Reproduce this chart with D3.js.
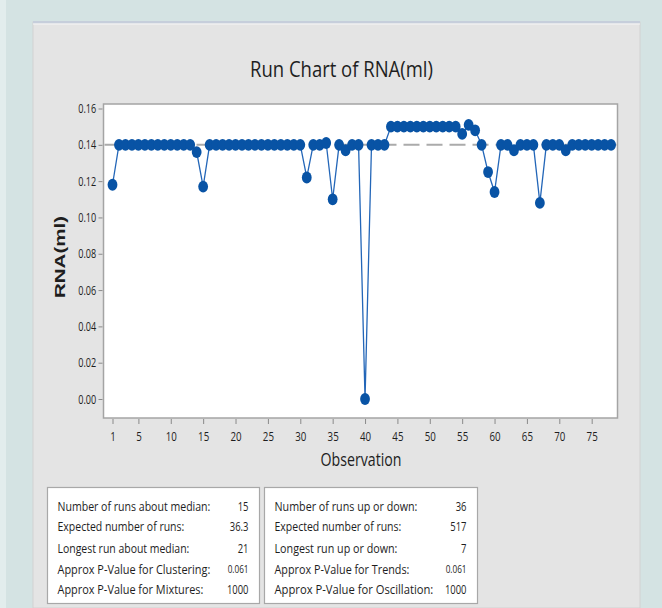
<!DOCTYPE html>
<html>
<head>
<meta charset="utf-8">
<script src="https://cdn.jsdelivr.net/npm/d3@7"></script>
<style>
  body { margin: 0; background: #d4e3e3; }
  text { font-family: "Open Sans", "Noto Sans", sans-serif; fill: #1e1e1e; }
</style>
</head>
<body>
<div id="c1"></div>
<script>
// RNA(ml) readings, observation = position in the list (1..78)
rnaValues = [
  0.118, 0.14, 0.14, 0.14, 0.14, 0.14, 0.14, 0.14, 0.14, 0.14,
  0.14, 0.14, 0.14, 0.136, 0.117, 0.14, 0.14, 0.14, 0.14, 0.14,
  0.14, 0.14, 0.14, 0.14, 0.14, 0.14, 0.14, 0.14, 0.14, 0.14,
  0.122, 0.14, 0.14, 0.141, 0.110, 0.14, 0.137, 0.14, 0.14, 0.0,
  0.14, 0.14, 0.14, 0.15, 0.15, 0.15, 0.15, 0.15, 0.15, 0.15,
  0.15, 0.15, 0.15, 0.15, 0.146, 0.151, 0.148, 0.14, 0.125, 0.114,
  0.14, 0.14, 0.137, 0.14, 0.14, 0.14, 0.108, 0.14, 0.14, 0.14,
  0.137, 0.14, 0.14, 0.14, 0.14, 0.14, 0.14, 0.14
]
medianValue = 0.14

xTicks = [1, 5, 10, 15, 20, 25, 30, 35, 40, 45, 50, 55, 60, 65, 70, 75]
yTicks = [0.00, 0.02, 0.04, 0.06, 0.08, 0.10, 0.12, 0.14, 0.16]

clusterLabels = ["Number of runs about median:", "Expected number of runs:", "Longest run about median:",
  "Approx P-Value for Clustering:", "Approx P-Value for Mixtures:"]
clusterValues = ["15", "36.3", "21", "0.061", "1000"]
trendLabels = ["Number of runs up or down:", "Expected number of runs:", "Longest run up or down:",
  "Approx P-Value for Trends:", "Approx P-Value for Oscillation:"]
trendValues = ["36", "517", "7", "0.061", "1000"]

W = 662, H = 608
frame = {left: 103.5, right: 617.5, top: 104, bottom: 418}

svg = d3.select("#c1")
  .append("svg")
  .attr("width", W)
  .attr("height", H)

// the original font is a narrow one: squash text horizontally with a scale transform
// (target = wanted width in px, or k = a fixed factor)
function condText(px, py, str, size, target, anchor) {
  var t = svg.append("text")
    .attr("text-anchor", anchor || "start")
    .style("font-size", size + "px")
    .text(str)
  var k = target < 1 ? target : target / t.node().getComputedTextLength()
  t.attr("transform", `translate(${px}, ${py}) scale(${k}, 1)`)
  return t
}

// backgrounds
svg.append("rect").attr("width", W).attr("height", H).attr("fill", "#d4e3e3")
svg.append("rect").attr("width", 6).attr("height", H).attr("fill", "#e2eded")
svg.append("rect").attr("x", 33).attr("y", 22).attr("width", 607).attr("height", H - 22)
  .attr("fill", "#e4e4e4").attr("stroke", "#d2d2d2")
svg.append("rect").attr("x", 33).attr("y", 21).attr("width", 607).attr("height", 2.5).attr("fill", "#c6cedb")
svg.append("rect").attr("x", 33).attr("y", 23.5).attr("width", 607).attr("height", 1).attr("fill", "#f5f5f5")

// title
condText(341.5, 77, "Run Chart of RNA(ml)", 22, 183, "middle")

// scales
x = d3.scaleLinear().domain([1, rnaValues.length]).range([112.5, 611.1])
y = d3.scaleLinear().domain([0, 0.16]).range([399, 108.5])

// plot frame
svg.append("rect")
  .attr("x", frame.left).attr("y", frame.top)
  .attr("width", frame.right - frame.left).attr("height", frame.bottom - frame.top)
  .attr("fill", "white").attr("stroke", "#a4a4a4").attr("stroke-width", 1.5)

// axes
yAxis = svg.append("g")
  .attr("transform", `translate(${frame.left - 1}, 0)`)
  .call(d3.axisLeft(y).tickValues(yTicks).tickFormat(d3.format(".2f")).tickSize(4).tickPadding(3))
yAxis.select(".domain").remove()
yAxis.selectAll("line").attr("stroke", "#8a8a8a")
yAxis.selectAll("text")
  .style("font-size", "13px").attr("fill", "#1e1e1e")
  .attr("x", -9)
  .attr("transform", "scale(0.7, 1)")

xAxis = svg.append("g")
  .attr("transform", `translate(0, ${frame.bottom + 1})`)
  .call(d3.axisBottom(x).tickValues(xTicks).tickFormat(d3.format("d")).tickSize(5).tickPadding(7))
xAxis.select(".domain").remove()
xAxis.selectAll("line").attr("stroke", "#8a8a8a")
xAxis.selectAll("text")
  .style("font-size", "13.5px").attr("fill", "#1e1e1e")
  .attr("transform", "scale(0.72, 1)")

// axis titles
condText(361, 466, "Observation", 17.5, 81, "middle")

svg.append("text")
  .attr("transform", "translate(65, 257) rotate(-90)")
  .attr("text-anchor", "middle")
  .style("font-size", "14px")
  .style("font-weight", "bold")
  .style("font-family", "Liberation Sans, Arial, sans-serif")
  .attr("textLength", 82).attr("lengthAdjust", "spacingAndGlyphs")
  .text("RNA(ml)")

// median reference line
svg.append("line")
  .attr("x1", frame.left + 1).attr("x2", frame.right - 1)
  .attr("y1", y(medianValue)).attr("y2", y(medianValue))
  .attr("stroke", "#ababab").attr("stroke-width", 2)
  .attr("stroke-dasharray", "16,7")

// run line + markers
line = d3.line().x((d, i) => x(i + 1)).y(d => y(d))
svg.append("path")
  .datum(rnaValues)
  .attr("d", line)
  .attr("fill", "none")
  .attr("stroke", "#2366b8")
  .attr("stroke-width", 1.3)

svg.selectAll(".pt")
  .data(rnaValues)
  .join("ellipse")
  .attr("class", "pt")
  .attr("cx", (d, i) => x(i + 1))
  .attr("cy", d => y(d))
  .attr("rx", 4.9)
  .attr("ry", 5.9)
  .attr("fill", "#0853a5")

// stats boxes
rowY = [511, 531, 553, 574, 594]

function statBox(x0, x1, labels, values, widths) {
  svg.append("rect")
    .attr("x", x0).attr("y", 487.5)
    .attr("width", x1 - x0).attr("height", 116)
    .attr("fill", "white").attr("stroke", "#a8a8a8").attr("stroke-width", 1.2)
  labels.forEach(function(lab, i) {
    condText(x0 + 10, rowY[i], lab, 13.5, widths[i])
    var small = values[i].indexOf(".0") >= 0
    condText(x1 - 11, rowY[i] - (small ? 1 : 0), values[i], small ? 10.5 : 13.5, small ? 0.78 : 0.7, "end")
  })
}

statBox(47.5, 259.5, clusterLabels, clusterValues, [153, 127, 132, 153, 146])
statBox(264.5, 477.5, trendLabels, trendValues, [143, 127, 123, 135, 159])
</script>
</body>
</html>
